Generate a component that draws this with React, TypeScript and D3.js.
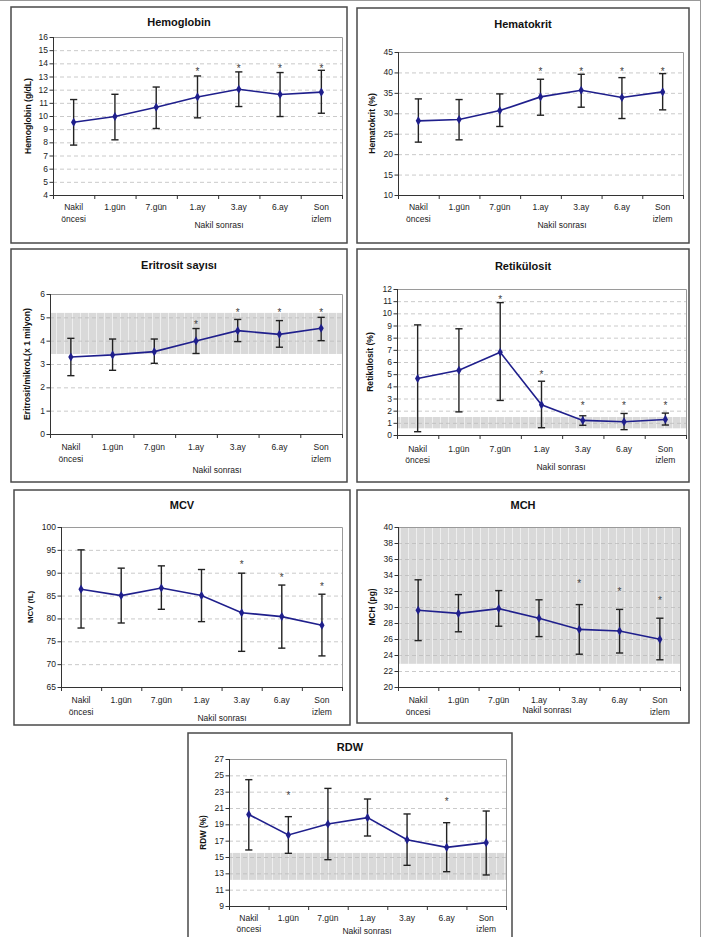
import React from 'react';
import * as d3 from 'd3';

// ---------- data ----------
const categoryLines: string[][] = [['Nakil', 'öncesi'], ['1.gün'], ['7.gün'], ['1.ay'], ['3.ay'], ['6.ay'], ['Son', 'izlem']];
const xAxisTitle = 'Nakil sonrası';

const hgbMean = [9.53, 9.96, 10.67, 11.45, 12.03, 11.63, 11.81];
const hgbLow = [7.79, 8.19, 9.05, 9.86, 10.72, 9.96, 10.21];
const hgbHigh = [11.25, 11.65, 12.2, 13.04, 13.35, 13.3, 13.47];
const hgbStar = [null, null, null, 13.55, 13.78, 13.78, 13.78];
const hgbTicks = [4, 5, 6, 7, 8, 9, 10, 11, 12, 13, 14, 15, 16];

const hctMean = [28.15, 28.48, 30.67, 34.01, 35.64, 33.85, 35.23];
const hctLow = [22.94, 23.5, 26.77, 29.53, 31.49, 28.72, 30.84];
const hctHigh = [33.52, 33.36, 34.74, 38.33, 39.55, 38.73, 39.71];
const hctStar = [null, null, null, 40.9, 40.9, 40.9, 40.9];
const hctTicks = [10, 15, 20, 25, 30, 35, 40, 45];

const rbcMean = [3.3, 3.39, 3.53, 3.99, 4.43, 4.27, 4.53];
const rbcLow = [2.5, 2.73, 3.03, 3.45, 3.96, 3.72, 4.0];
const rbcHigh = [4.1, 4.07, 4.07, 4.52, 4.91, 4.86, 5.0];
const rbcStar = [null, null, null, 4.79, 5.31, 5.31, 5.31];
const rbcTicks = [0, 1, 2, 3, 4, 5, 6];
const rbcBand = [3.43, 5.19];

const retMean = [4.64, 5.32, 6.8, 2.48, 1.2, 1.09, 1.28];
const retLow = [0.27, 1.9, 2.84, 0.6, 0.8, 0.44, 0.82];
const retHigh = [9.05, 8.73, 10.88, 4.42, 1.58, 1.77, 1.8];
const retStar = [null, null, 11.29, 5.15, 2.65, 2.65, 2.65];
const retTicks = [0, 1, 2, 3, 4, 5, 6, 7, 8, 9, 10, 11, 12];
const retBand = [0.55, 1.48];

const mcvMean = [86.4, 85.0, 86.65, 85.0, 81.25, 80.4, 78.5];
const mcvLow = [77.9, 79.0, 82.0, 79.3, 72.8, 73.5, 71.8];
const mcvHigh = [95.0, 91.0, 91.5, 90.7, 89.9, 87.3, 85.3];
const mcvStar = [null, null, null, null, 92.2, 89.4, 87.5];
const mcvTicks = [65, 70, 75, 80, 85, 90, 95, 100];

const mchMean = [29.6, 29.2, 29.8, 28.6, 27.2, 27.0, 25.96];
const mchLow = [25.8, 26.9, 27.6, 26.3, 24.1, 24.25, 23.4];
const mchHigh = [33.4, 31.55, 32.05, 30.9, 30.3, 29.7, 28.6];
const mchStar = [null, null, null, null, 33.2, 32.25, 31.1];
const mchTicks = [20, 22, 24, 26, 28, 30, 32, 34, 36, 38, 40];
const mchBand = [22.9, 40];

const rdwMean = [20.2, 17.7, 19.04, 19.82, 17.12, 16.18, 16.76];
const rdwLow = [15.86, 15.45, 14.67, 17.57, 13.98, 13.2, 12.8];
const rdwHigh = [24.47, 19.94, 23.4, 22.1, 20.27, 19.2, 20.63];
const rdwStar = [null, 22.84, null, null, null, 22.06, null];
const rdwTicks = [9, 11, 13, 15, 17, 19, 21, 23, 25, 27];
const rdwBand = [12.2, 15.5];

// ---------- layout / style ----------
const FONT = '"Liberation Sans", Arial, Helvetica, sans-serif';
const LINE_COLOR = '#1f1f8c';

type Cfg = {
  title: string; yLabel: string; ticks: number[];
  mean: number[]; low: number[]; high: number[]; star: (number | null)[]; band?: number[];
  box: [number, number, number, number]; plot: [number, number, number, number];
  titleY: number; yLabelX: number; yLabelSize: number;
  catY: [number, number]; xTitle: [number, number];
};

const charts: Cfg[] = [
  { title: 'Hemoglobin', yLabel: 'Hemoglobin (g/dL)', ticks: hgbTicks, mean: hgbMean, low: hgbLow, high: hgbHigh, star: hgbStar,
    box: [11, 7, 347, 243], plot: [53, 37, 342, 195], titleY: 22, yLabelX: 28, yLabelSize: 8.6, catY: [207, 219], xTitle: [219, 225] },
  { title: 'Hematokrit', yLabel: 'Hematokrit (%)', ticks: hctTicks, mean: hctMean, low: hctLow, high: hctHigh, star: hctStar,
    box: [357, 8, 689, 243], plot: [398, 52, 683, 195], titleY: 24, yLabelX: 372, yLabelSize: 8.6, catY: [207, 219], xTitle: [562, 225] },
  { title: 'Eritrosit sayısı', yLabel: 'Eritrosit/mikroL(x 1 milyon)', ticks: rbcTicks, mean: rbcMean, low: rbcLow, high: rbcHigh, star: rbcStar, band: rbcBand,
    box: [11, 249, 347, 482], plot: [50, 294, 342, 434], titleY: 265, yLabelX: 27, yLabelSize: 8.6, catY: [447, 459], xTitle: [217, 470] },
  { title: 'Retikülosit', yLabel: 'Retikülosit (%)', ticks: retTicks, mean: retMean, low: retLow, high: retHigh, star: retStar, band: retBand,
    box: [357, 249, 689, 482], plot: [397, 289, 686, 435], titleY: 266, yLabelX: 370, yLabelSize: 8.6, catY: [449, 460], xTitle: [561, 467] },
  { title: 'MCV', yLabel: 'MCV (fL)', ticks: mcvTicks, mean: mcvMean, low: mcvLow, high: mcvHigh, star: mcvStar,
    box: [14, 490, 350, 725], plot: [61, 527, 342, 687], titleY: 505, yLabelX: 30, yLabelSize: 7.8, catY: [700, 712], xTitle: [222, 718] },
  { title: 'MCH', yLabel: 'MCH (pg)', ticks: mchTicks, mean: mchMean, low: mchLow, high: mchHigh, star: mchStar, band: mchBand,
    box: [357, 490, 689, 723], plot: [398, 527, 680, 687], titleY: 505, yLabelX: 372, yLabelSize: 8.4, catY: [700, 712], xTitle: [547, 710] },
  { title: 'RDW', yLabel: 'RDW (%)', ticks: rdwTicks, mean: rdwMean, low: rdwLow, high: rdwHigh, star: rdwStar, band: rdwBand,
    box: [188, 733, 512, 950], plot: [229, 759, 506, 906], titleY: 747, yLabelX: 203, yLabelSize: 8.2, catY: [918, 929], xTitle: [367, 931] },
];

function Panel({ c }: { c: Cfg }) {
  const [bx0, by0, bx1, by1] = c.box;
  const [pl, pt, pr, pb] = c.plot;
  const x = d3.scaleBand<number>().domain(d3.range(categoryLines.length)).range([pl, pr]).paddingInner(0).paddingOuter(0);
  const cx = (i: number) => (x(i) as number) + x.bandwidth() / 2;
  const y = d3.scaleLinear().domain([c.ticks[0], c.ticks[c.ticks.length - 1]]).range([pb, pt]);
  const line = d3.line<number>().x((_, i) => cx(i)).y((d) => y(d));
  const diamond = d3.symbol().type(d3.symbolDiamond).size(24)();
  const boundaries = d3.range(categoryLines.length + 1).map((i) => pl + i * x.bandwidth());
  const cap = 3.6;
  return (
    <g>
      <rect x={bx0} y={by0} width={bx1 - bx0} height={by1 - by0} fill="#fff" stroke="#4a4a4a" strokeWidth={1.5} />
      <text x={(bx0 + bx1) / 2} y={c.titleY + 4} textAnchor="middle" fontFamily={FONT} fontWeight="bold" fontSize={11} fill="#111">{c.title}</text>
      {c.band && (
        <rect x={pl} width={pr - pl} y={y(c.band[1])} height={y(c.band[0]) - y(c.band[1])} fill="url(#bandPat)" />
      )}
      {c.ticks.slice(1, -1).map((t) => (
        <line key={'g' + t} x1={pl} x2={pr} y1={y(t) + 0.5} y2={y(t) + 0.5} stroke="#bdbdbd" strokeWidth={0.8} strokeDasharray="4,3" />
      ))}
      <path d={`M${pl},${pt + 0.5}H${pr + 0.5}V${pb}`} fill="none" stroke="#9a9a9a" strokeWidth={1} />
      <line x1={pl + 0.5} x2={pl + 0.5} y1={pt} y2={pb} stroke="#333" strokeWidth={1} />
      <line x1={pl} x2={pr} y1={pb + 0.5} y2={pb + 0.5} stroke="#333" strokeWidth={1} />
      {c.ticks.map((t) => (
        <g key={'t' + t}>
          <line x1={pl - 3.5} x2={pl} y1={y(t) + 0.5} y2={y(t) + 0.5} stroke="#333" strokeWidth={1} />
          <text x={pl - 5} y={y(t) + 3} textAnchor="end" fontFamily={FONT} fontSize={8.5} fill="#222">{t}</text>
        </g>
      ))}
      {boundaries.map((bxv, i) => (
        <line key={'b' + i} x1={bxv + 0.5} x2={bxv + 0.5} y1={pb} y2={pb + 4} stroke="#333" strokeWidth={1} />
      ))}
      {categoryLines.map((lines, i) => lines.map((s, k) => (
        <text key={'c' + i + k} x={cx(i)} y={c.catY[k] + 3} textAnchor="middle" fontFamily={FONT} fontSize={8.5} fill="#222">{s}</text>
      )))}
      <text x={c.xTitle[0]} y={c.xTitle[1] + 3} textAnchor="middle" fontFamily={FONT} fontSize={8.5} fill="#222">{xAxisTitle}</text>
      <text transform={`translate(${c.yLabelX},${(pt + pb) / 2}) rotate(-90)`} y={3} textAnchor="middle" fontFamily={FONT} fontWeight="bold" fontSize={c.yLabelSize} fill="#111">{c.yLabel}</text>
      {c.mean.map((_, i) => (
        <g key={'e' + i} stroke="#222" strokeWidth={1.4}>
          <line x1={cx(i)} x2={cx(i)} y1={y(c.low[i])} y2={y(c.high[i])} />
          <line x1={cx(i) - cap} x2={cx(i) + cap} y1={y(c.low[i])} y2={y(c.low[i])} />
          <line x1={cx(i) - cap} x2={cx(i) + cap} y1={y(c.high[i])} y2={y(c.high[i])} />
        </g>
      ))}
      <path d={line(c.mean) || ''} fill="none" stroke={LINE_COLOR} strokeWidth={1.6} />
      {c.mean.map((v, i) => (
        <path key={'m' + i} d={diamond || ''} transform={`translate(${cx(i)},${y(v)})`} fill={LINE_COLOR} />
      ))}
      {c.star.map((s, i) => s == null ? null : (
        <text key={'s' + i} x={cx(i)} y={y(s) + 5.8} textAnchor="middle" fontFamily={FONT} fontSize={10} fill="#404040" style={{ WebkitFontSmoothing: 'antialiased' }}>*</text>
      ))}
    </g>
  );
}

export default function App() {
  return (
    <svg width={704} height={937} style={{ position: 'absolute', left: 0, top: 0, background: '#fff' }}>
      <defs>
        <pattern id="bandPat" width={8} height={12} patternUnits="userSpaceOnUse">
          <rect width={8} height={12} fill="#d9d9d9" />
          <line x1={0.5} x2={0.5} y1={0} y2={12} stroke="#eeeeee" strokeWidth={1} />
        </pattern>
      </defs>
      <rect x={0} y={0} width={704} height={937} fill="#fff" />
      <line x1={0} x2={701} y1={0.5} y2={0.5} stroke="#999" strokeWidth={1} />
      <line x1={700.5} x2={700.5} y1={0} y2={937} stroke="#999" strokeWidth={1} />
      {charts.map((c, i) => <Panel key={i} c={c} />)}
    </svg>
  );
}
